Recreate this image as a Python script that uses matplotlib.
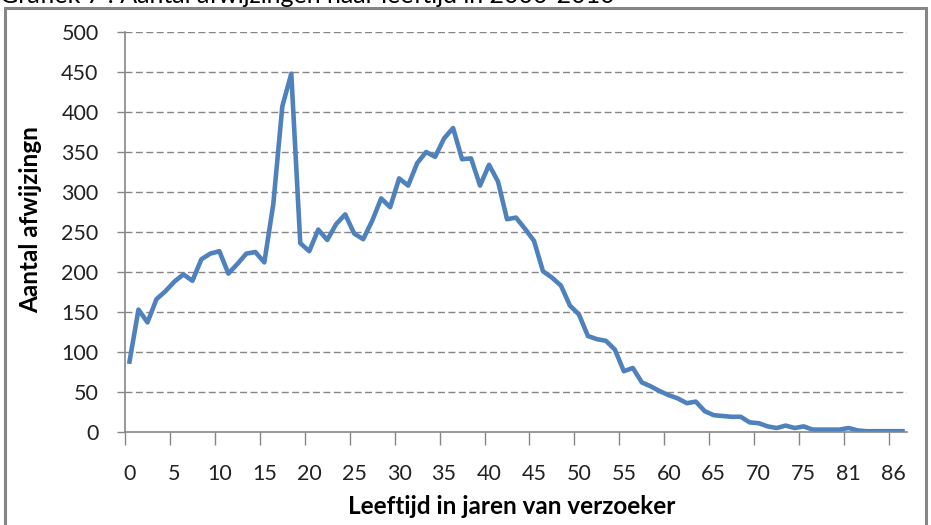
import matplotlib.pyplot as plt
from matplotlib.patches import Rectangle

# ages on the category axis (79 has no data in the source)
ages = list(range(0, 79)) + list(range(80, 88))

# number of refusals per age
afwijzingen = [
    88, 153, 137, 166, 176, 188, 197, 189, 216, 223,
    226, 198, 210, 223, 225, 212, 285, 407, 448, 236,
    226, 253, 240, 260, 272, 248, 241, 264, 292, 281,
    317, 308, 336, 350, 344, 367, 380, 341, 342, 308,
    334, 313, 266, 268, 254, 239, 201, 193, 183, 158,
    147, 120, 116, 114, 103, 76, 80, 62, 57, 51,
    46, 42, 36, 38, 26, 21, 20, 19, 19, 12,
    11, 7, 5, 8, 5, 7, 3, 3, 3, 3,
    5, 2, 1, 1, 1, 1, 1,
]

y_ticks = list(range(0, 501, 50))

plt.rcParams['font.family'] = ['Lato', 'DejaVu Sans']

W, H = 931, 525
fig = plt.figure(figsize=(W / 100, H / 100), dpi=100)
ax = fig.add_axes([125 / W, (H - 432) / H, (907 - 125) / W, 400 / H])

grey = '#868686'
pos = list(range(len(ages)))
ax.plot(pos, afwijzingen, color='#4F81BD', lw=3.3, solid_joinstyle='round')

ax.set_xlim(-0.5, len(ages) - 0.5)
ax.set_ylim(0, 500)

# grid
for v in y_ticks[1:]:
    ax.axhline(v, color=grey, lw=1.0, dashes=(5, 2.5), zorder=0)

ax.set_yticks(y_ticks)
ax.set_yticklabels([str(v) for v in y_ticks])
ax.tick_params(axis='y', length=6, width=1, color=grey, pad=13, labelsize=15.5,
               labelcolor='#222222')

# tick marks between categories, labels on every 5th category
ax.set_xticks([p - 0.5 for p in pos[::5]])
ax.set_xticklabels([])
ax.set_xticks(pos[::5], minor=True)
ax.set_xticklabels([str(ages[p]) for p in pos[::5]], minor=True)
ax.tick_params(axis='x', which='major', length=9, width=1, color=grey)
ax.tick_params(axis='x', which='minor', length=0, pad=23, labelsize=15.5,
               labelcolor='#222222')

for s in ['top', 'right']:
    ax.spines[s].set_visible(False)
for s in ['left', 'bottom']:
    ax.spines[s].set_color(grey)
    ax.spines[s].set_linewidth(1.2)

fig.text(512 / W, (H - 507) / H, 'Leeftijd in jaren van verzoeker',
         fontsize=17.5, fontweight='bold', ha='center', va='center')
fig.text(31 / W, (H - 220) / H, 'Aantal afwijzingn', rotation=90,
         fontsize=17.5, fontweight='bold', ha='center', va='center')

# chart frame and clipped caption above it
fig.add_artist(Rectangle((5 / W, -0.05), 921 / W, (H - 8) / H + 0.05,
                         transform=fig.transFigure, fill=False,
                         edgecolor=grey, lw=2.2))
fig.text(0, 1 - 3 / H, 'Grafiek 7 : Aantal afwijzingen naar leeftijd in 2000-2010',
         fontsize=18, va='baseline', ha='left')

fig.savefig('out.png', dpi=100)
